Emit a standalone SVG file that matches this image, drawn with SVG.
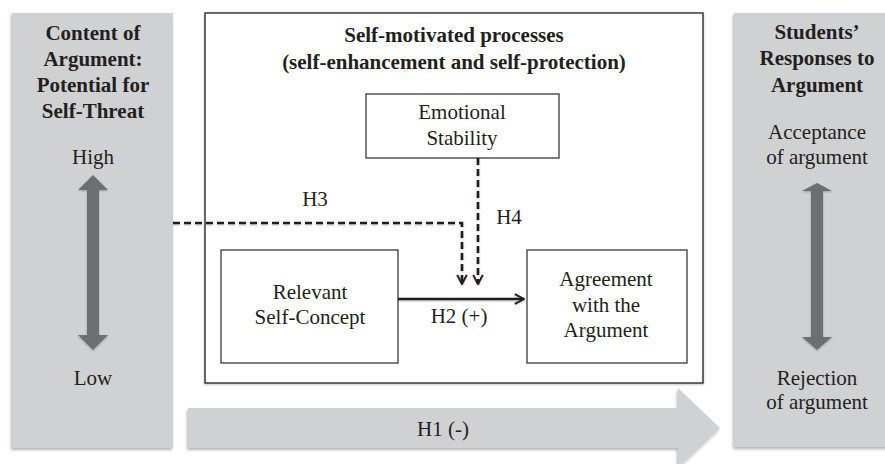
<svg xmlns="http://www.w3.org/2000/svg" width="885" height="464" viewBox="0 0 885 464">
<defs>
<style>
.t{font-family:"Liberation Serif","Times New Roman",Times,serif;font-size:21px;fill:#231f20;text-anchor:middle}
.b{font-weight:bold}
.panel{fill:#d0d1d3}
.box{fill:#fff;stroke:#3a3a3a;stroke-width:1.3}
.dash{fill:none;stroke:#231f20;stroke-width:2.6;stroke-dasharray:7,4}
.solid{fill:none;stroke:#231f20;stroke-width:2.6}
.dbl{fill:#6d6e71}
</style>
<filter id="sh" x="-10%" y="-10%" width="120%" height="120%">
<feDropShadow dx="-1" dy="2" stdDeviation="1.5" flood-color="#000" flood-opacity="0.3"/>
</filter>
<filter id="lsh" x="-20%" y="-20%" width="140%" height="140%">
<feDropShadow dx="0" dy="1" stdDeviation="1" flood-color="#000" flood-opacity="0.25"/>
</filter>
<marker id="chev" viewBox="0 0 10 10" refX="9" refY="5" markerWidth="4.4" markerHeight="4.4" orient="auto" markerUnits="strokeWidth">
<path d="M1,0.8 L9,5 L1,9.2" fill="none" stroke="#231f20" stroke-width="1.7"/>
</marker>
</defs>

<g id="left-panel">
<rect class="panel" x="12" y="13" width="161" height="435" filter="url(#sh)"/>
<text class="t b" x="93" y="40">Content of</text>
<text class="t b" x="93" y="66">Argument:</text>
<text class="t b" x="93" y="92">Potential for</text>
<text class="t b" x="93" y="118">Self-Threat</text>
<text class="t" x="93" y="164">High</text>
<path class="dbl" filter="url(#lsh)" d="M93,175 L108,190 L99,190 L99,335 L108,335 L93,350 L78,335 L87,335 L87,190 L78,190 Z"/>
<text class="t" x="93" y="385">Low</text>
</g>

<g id="right-panel">
<rect class="panel" x="734" y="13" width="160" height="434" filter="url(#sh)"/>
<text class="t b" x="817" y="39">Students’</text>
<text class="t b" x="817" y="65">Responses to</text>
<text class="t b" x="817" y="92">Argument</text>
<text class="t" x="817" y="139">Acceptance</text>
<text class="t" x="817" y="164">of argument</text>
<path class="dbl" filter="url(#lsh)" d="M817,183 L832,191 L823,191 L823,337 L832,337 L817,350 L802,337 L811,337 L811,191 L802,191 Z"/>
<text class="t" x="817" y="385">Rejection</text>
<text class="t" x="817" y="409">of argument</text>
</g>

<g id="h1-arrow">
<path class="panel" filter="url(#sh)" d="M188,408 L678,408 L678,388 L720,428 L678,468 L678,448 L188,448 Z"/>
<text class="t" x="443" y="436">H1 (-)</text>
</g>

<g id="process-box">
<rect x="205" y="13" width="498" height="370" fill="#fff" stroke="#3a3a3a" stroke-width="1.5" filter="url(#lsh)"/>
<text class="t b" x="454" y="42">Self-motivated processes</text>
<text class="t b" x="454" y="69">(self-enhancement and self-protection)</text>
</g>

<g id="emotional-stability">
<rect class="box" x="366" y="94" width="193" height="64"/>
<text class="t" x="462" y="119">Emotional</text>
<text class="t" x="462" y="145">Stability</text>
</g>

<g id="relevant-self-concept">
<rect class="box" x="221" y="250" width="177" height="113"/>
<text class="t" x="310" y="299">Relevant</text>
<text class="t" x="310" y="324">Self-Concept</text>
</g>

<g id="agreement">
<rect class="box" x="527" y="250" width="160" height="113"/>
<text class="t" x="606" y="286">Agreement</text>
<text class="t" x="606" y="312">with the</text>
<text class="t" x="606" y="337">Argument</text>
</g>

<g id="connectors" filter="url(#lsh)">
<path class="solid" d="M398,299 L524,299" marker-end="url(#chev)"/>
<path class="dash" d="M173,223 L462,223 L462,284" marker-end="url(#chev)"/>
<path class="dash" d="M478,158 L478,284" marker-end="url(#chev)"/>
</g>

<g id="labels">
<text class="t" x="315" y="206">H3</text>
<text class="t" x="509" y="224">H4</text>
<text class="t" x="459" y="323">H2 (+)</text>
</g>
</svg>
